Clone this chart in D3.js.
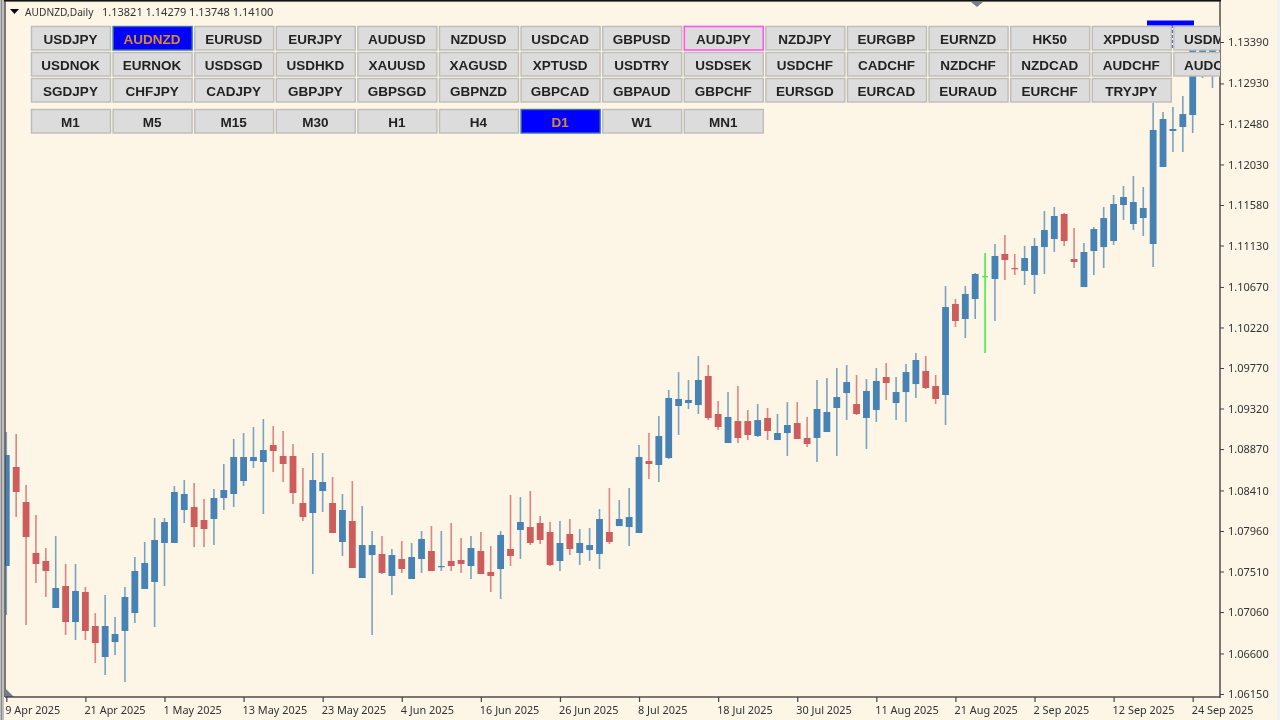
<!DOCTYPE html>
<html><head><meta charset="utf-8">
<script src="https://cdnjs.cloudflare.com/ajax/libs/d3/7.8.5/d3.min.js"></script>
<style>
html,body{margin:0;padding:0;background:#FDF5E6;overflow:hidden}
svg{display:block;filter:blur(0.35px)}
</style></head><body><svg id="c" width="1280" height="720"></svg>
<script>
const opens=[1.07571,1.08671,1.08282,1.07716,1.07627,1.07105,1.07349,1.06949,1.07283,1.06905,1.06561,1.06727,1.06850,1.07049,1.07316,1.07394,1.07827,1.07827,1.08193,1.08226,1.08082,1.08093,1.08326,1.08371,1.08515,1.08737,1.08726,1.08915,1.08793,1.08793,1.08271,1.08160,1.08404,1.08271,1.07838,1.08071,1.07438,1.07693,1.07705,1.07460,1.07649,1.07427,1.07649,1.07738,1.07560,1.07627,1.07638,1.07571,1.07738,1.07505,1.07538,1.07760,1.07971,1.08004,1.08049,1.07949,1.07627,1.07927,1.07716,1.07749,1.07705,1.07949,1.08015,1.08004,1.07938,1.08737,1.08693,1.08771,1.09348,1.09381,1.09359,1.09681,1.09259,1.08937,1.09181,1.09181,1.09015,1.09215,1.08970,1.09048,1.09159,1.08993,1.08993,1.09059,1.09326,1.09492,1.09370,1.09215,1.09304,1.09670,1.09381,1.09503,1.09592,1.09737,1.09570,1.09470,1.10481,1.10314,1.10536,1.10780,1.10758,1.11036,1.10880,1.10847,1.10803,1.11113,1.11202,1.11480,1.10980,1.10669,1.11069,1.11113,1.11180,1.11580,1.11369,1.11435,1.11147,1.12002,1.12402,1.12446,1.12579,1.13057,1.13079];
const highs=[1.09059,1.09037,1.08471,1.08138,1.07771,1.07904,1.07594,1.07594,1.07338,1.07049,1.07249,1.07005,1.07338,1.07671,1.07838,1.08104,1.08104,1.08460,1.08526,1.08493,1.08315,1.08426,1.08704,1.08982,1.09048,1.09115,1.09204,1.09126,1.09070,1.08926,1.08660,1.08826,1.08826,1.08560,1.08371,1.08515,1.08238,1.07960,1.07904,1.07760,1.07849,1.07827,1.07960,1.08015,1.07960,1.08049,1.07882,1.07904,1.07949,1.07793,1.07960,1.08360,1.08337,1.08404,1.08127,1.08060,1.08071,1.08093,1.07982,1.07993,1.08204,1.08437,1.08304,1.08437,1.08915,1.09048,1.09237,1.09526,1.09725,1.09637,1.09903,1.09803,1.09403,1.09503,1.09570,1.09304,1.09370,1.09326,1.09259,1.09392,1.09392,1.09226,1.09637,1.09659,1.09770,1.09803,1.09692,1.09648,1.09770,1.09825,1.09670,1.09814,1.09936,1.09903,1.09692,1.10680,1.10536,1.10680,1.10825,1.11047,1.11147,1.11247,1.11036,1.11125,1.11213,1.11513,1.11558,1.11491,1.11324,1.11158,1.11336,1.11558,1.11691,1.11791,1.11902,1.11780,1.12712,1.12613,1.12668,1.12790,1.13412,1.13412,1.13412];
const lows=[1.07027,1.08115,1.06916,1.07383,1.07227,1.07105,1.06805,1.06750,1.06750,1.06494,1.06361,1.06583,1.06283,1.06938,1.07316,1.06894,1.07349,1.07827,1.08049,1.07782,1.07782,1.07804,1.08193,1.08226,1.08460,1.08660,1.08149,1.08615,1.08504,1.08260,1.08071,1.07482,1.08171,1.07938,1.07682,1.07549,1.07438,1.06805,1.07482,1.07249,1.07494,1.07427,1.07494,1.07516,1.07516,1.07516,1.07494,1.07427,1.07482,1.07283,1.07205,1.07571,1.07649,1.07804,1.07816,1.07571,1.07516,1.07693,1.07582,1.07627,1.07538,1.07816,1.08015,1.07793,1.07938,1.08537,1.08504,1.08759,1.09026,1.09315,1.09259,1.09192,1.09081,1.08937,1.08937,1.08970,1.09004,1.08970,1.08970,1.08793,1.08982,1.08893,1.08726,1.09059,1.08793,1.09192,1.09248,1.08870,1.09170,1.09415,1.09192,1.09170,1.09437,1.09537,1.09370,1.09137,1.10225,1.10103,1.10314,1.09936,1.10292,1.10747,1.10803,1.10692,1.10592,1.10814,1.11058,1.11125,1.10880,1.10669,1.10803,1.10880,1.11136,1.11413,1.11302,1.11236,1.10891,1.12002,1.12168,1.12168,1.12379,1.12990,1.12879];
const closes=[1.08804,1.08393,1.07893,1.07594,1.07516,1.07327,1.06949,1.07294,1.06850,1.06716,1.06905,1.06816,1.07227,1.07516,1.07605,1.07860,1.08060,1.08393,1.08371,1.08004,1.07982,1.08326,1.08415,1.08782,1.08782,1.08782,1.08859,1.08848,1.08704,1.08382,1.08115,1.08526,1.08504,1.07938,1.08193,1.07549,1.07804,1.07804,1.07494,1.07693,1.07538,1.07671,1.07871,1.07516,1.07571,1.07571,1.07594,1.07771,1.07482,1.07460,1.07916,1.07682,1.08060,1.07827,1.07860,1.07582,1.07827,1.07760,1.07827,1.07804,1.08093,1.07838,1.08093,1.08115,1.08782,1.08704,1.09015,1.09437,1.09426,1.09415,1.09637,1.09215,1.09115,1.09226,1.08993,1.09026,1.09192,1.09070,1.09048,1.09137,1.08982,1.08926,1.09315,1.09281,1.09448,1.09614,1.09259,1.09515,1.09626,1.09603,1.09503,1.09725,1.09859,1.09548,1.09426,1.10447,1.10292,1.10592,1.10814,1.10791,1.11014,1.10969,1.10869,1.10991,1.11125,1.11302,1.11458,1.11180,1.10947,1.11058,1.11313,1.11435,1.11591,1.11669,1.11613,1.11547,1.12413,1.12535,1.12424,1.12590,1.13357,1.13357,1.13357];
const highlightedCandle=99;
const priceTicks=[1.13390,1.12930,1.12480,1.12030,1.11580,1.11130,1.10670,1.10220,1.09770,1.09320,1.08870,1.08410,1.07960,1.07510,1.07060,1.06600,1.06150];
const dateTicks=["9 Apr 2025","21 Apr 2025","1 May 2025","13 May 2025","23 May 2025","4 Jun 2025","16 Jun 2025","26 Jun 2025","8 Jul 2025","18 Jul 2025","30 Jul 2025","11 Aug 2025","21 Aug 2025","2 Sep 2025","12 Sep 2025","24 Sep 2025"];
const symbolRows=[
["USDJPY","AUDNZD","EURUSD","EURJPY","AUDUSD","NZDUSD","USDCAD","GBPUSD","AUDJPY","NZDJPY","EURGBP","EURNZD","HK50","XPDUSD","USDM"],
["USDNOK","EURNOK","USDSGD","USDHKD","XAUUSD","XAGUSD","XPTUSD","USDTRY","USDSEK","USDCHF","CADCHF","NZDCHF","NZDCAD","AUDCHF","AUDC"],
["SGDJPY","CHFJPY","CADJPY","GBPJPY","GBPSGD","GBPNZD","GBPCAD","GBPAUD","GBPCHF","EURSGD","EURCAD","EURAUD","EURCHF","TRYJPY"]];
const timeframes=["M1","M5","M15","M30","H1","H4","D1","W1","MN1"];
const legendName="AUDNZD,Daily", legendOHLC="1.13821 1.14279 1.13748 1.14100";

const BG="#FDF5E6",UP="#4682B4",DOWN="#CD5C5C",GREEN="#44EE44",AXIS="#444444",TXT="#333333";
const FONT="'Noto Sans',sans-serif",BTN="'Liberation Sans',Arial,sans-serif";
const plot={l:5,r:1220,t:2,b:697};
const svg=d3.select("#c");
const x=d3.scaleLinear().domain([0,8*(dateTicks.length-1)]).range([6.3,1192.7]);
const y=d3.scaleLinear().domain([1.0615,1.1339]).range([694,42]);

svg.append("rect").attr("width",1280).attr("height",720).attr("fill",BG);
const defs=svg.append("defs");
defs.append("clipPath").attr("id","plotClip").append("rect").attr("x",plot.l).attr("y",plot.t).attr("width",plot.r-plot.l).attr("height",plot.b-plot.t);

// window frame
svg.append("rect").attr("x",0).attr("y",0).attr("width",4).attr("height",720).attr("fill","#BDBDBD");
svg.append("rect").attr("x",1).attr("y",0).attr("width",1).attr("height",720).attr("fill","#8a8a8a");
svg.append("rect").attr("x",1277).attr("y",0).attr("width",3).attr("height",720).attr("fill","#F2F2F2");

const g=svg.append("g").attr("clip-path","url(#plotClip)");
const candles=d3.range(opens.length).map(i=>({i,o:opens[i],h:highs[i],l:lows[i],c:closes[i]}));
const col=d=>d.i===highlightedCandle?GREEN:(d.c>=d.o?UP:DOWN);
g.selectAll("line.w").data(candles).join("line").attr("class","w")
 .attr("x1",d=>x(d.i)).attr("x2",d=>x(d.i)).attr("y1",d=>y(d.h)).attr("y2",d=>y(d.l))
 .attr("stroke",col).attr("stroke-width",1.6).attr("stroke-opacity",d=>d.i===highlightedCandle?1:0.72);
g.selectAll("rect.b").data(candles).join("rect").attr("class","b")
 .attr("x",d=>x(d.i)-(d.i===highlightedCandle?3:3.4)).attr("width",d=>d.i===highlightedCandle?6:6.8)
 .attr("y",d=>y(Math.max(d.o,d.c))).attr("height",d=>Math.max(1.2,Math.abs(y(d.o)-y(d.c))))
 .attr("fill",col);

// blue marker behind the buttons
g.append("rect").attr("x",1147).attr("y",20.5).attr("width",47).attr("height",5).attr("fill","#0000FF");
g.append("line").attr("x1",1172).attr("x2",1172).attr("y1",25).attr("y2",50)
 .attr("stroke","#3333EE").attr("stroke-width",1.6).attr("stroke-dasharray","3 2");

// frame lines and corner markers
svg.append("rect").attr("x",4).attr("y",0).attr("width",plot.r-3).attr("height",1.6).attr("fill","#111");
svg.append("path").attr("d","M971,2 L983,2 L977,7 Z").attr("fill","#708090");
svg.append("path").attr("d","M6,697 L6,689 L14,697 Z").attr("fill","#708090");

// price axis
const yAxis=svg.append("g").attr("transform",`translate(${plot.r},0)`)
 .call(d3.axisRight(y).tickValues(priceTicks).tickSize(4).tickPadding(4).tickFormat(d3.format(".5f")));
yAxis.select(".domain").remove();
yAxis.selectAll(".tick line").attr("stroke",AXIS).attr("stroke-width",1);
yAxis.selectAll(".tick text").attr("fill",TXT).style("font-family",FONT).style("font-size","11px").attr("x",8);
svg.append("rect").attr("x",plot.l-0.7).attr("y",1).attr("width",1.4).attr("height",plot.b-1).attr("fill",AXIS);
svg.append("rect").attr("x",plot.r-0.7).attr("y",1).attr("width",1.4).attr("height",plot.b).attr("fill",AXIS);
svg.append("rect").attr("x",plot.l).attr("y",plot.b-0.7).attr("width",plot.r-plot.l).attr("height",1.4).attr("fill",AXIS);

// time axis
const xAxis=svg.append("g").attr("transform",`translate(0,${plot.b})`)
 .call(d3.axisBottom(x).tickValues(dateTicks.map((_,i)=>i*8)).tickSize(5).tickPadding(4).tickFormat((_,i)=>dateTicks[i]));
xAxis.select(".domain").remove();
xAxis.selectAll(".tick line").attr("stroke",AXIS).attr("stroke-width",1.2);
xAxis.selectAll(".tick text").attr("fill",TXT).attr("text-anchor","start").attr("x",-1.5).style("font-family",FONT).style("font-size","10.9px");

// legend
svg.append("path").attr("d","M10,9 L19,9 L14.5,14 Z").attr("fill","#000");
svg.append("text").attr("x",25).attr("y",15.5).attr("fill",TXT).style("font-family",FONT).style("font-size","10.2px").text(legendName);
svg.append("text").attr("x",102).attr("y",15.5).attr("fill",TXT).style("font-family",FONT).style("font-size","11px").text(legendOHLC);

// buttons
const btnX=d3.scaleLinear().domain([0,1]).range([31,112.6]);
const buttons=svg.append("g").attr("clip-path","url(#plotClip)");
function button(label,col,top,active,outlined){
  const left=btnX(col), cut=left+80>plot.r;
  const b=buttons.append("g").attr("transform",`translate(${left},${top})`);
  b.append("rect").attr("x",0.5).attr("y",0.5).attr("width",79).attr("height",23.5)
   .attr("fill",active?"#0000FF":"#DCDCDC")
   .attr("stroke",outlined?"#FF55EE":(active?"#3A6EA5":"#BCBCB8")).attr("stroke-width",outlined?1.6:1.4);
  b.append("text").attr("x",cut?10.5:39.5).attr("y",17.6).attr("text-anchor",cut?"start":"middle")
   .attr("fill",active?"#E08A1E":"#222").style("font-family",BTN).style("font-weight","700").style("font-size","13.5px").text(label);
}
symbolRows.forEach((row,r)=>row.forEach((s,c)=>button(s,c,26+r*26,s==="AUDNZD",s==="AUDJPY")));
timeframes.forEach((s,c)=>button(s,c,109,s==="D1",false));
</script></body></html>
